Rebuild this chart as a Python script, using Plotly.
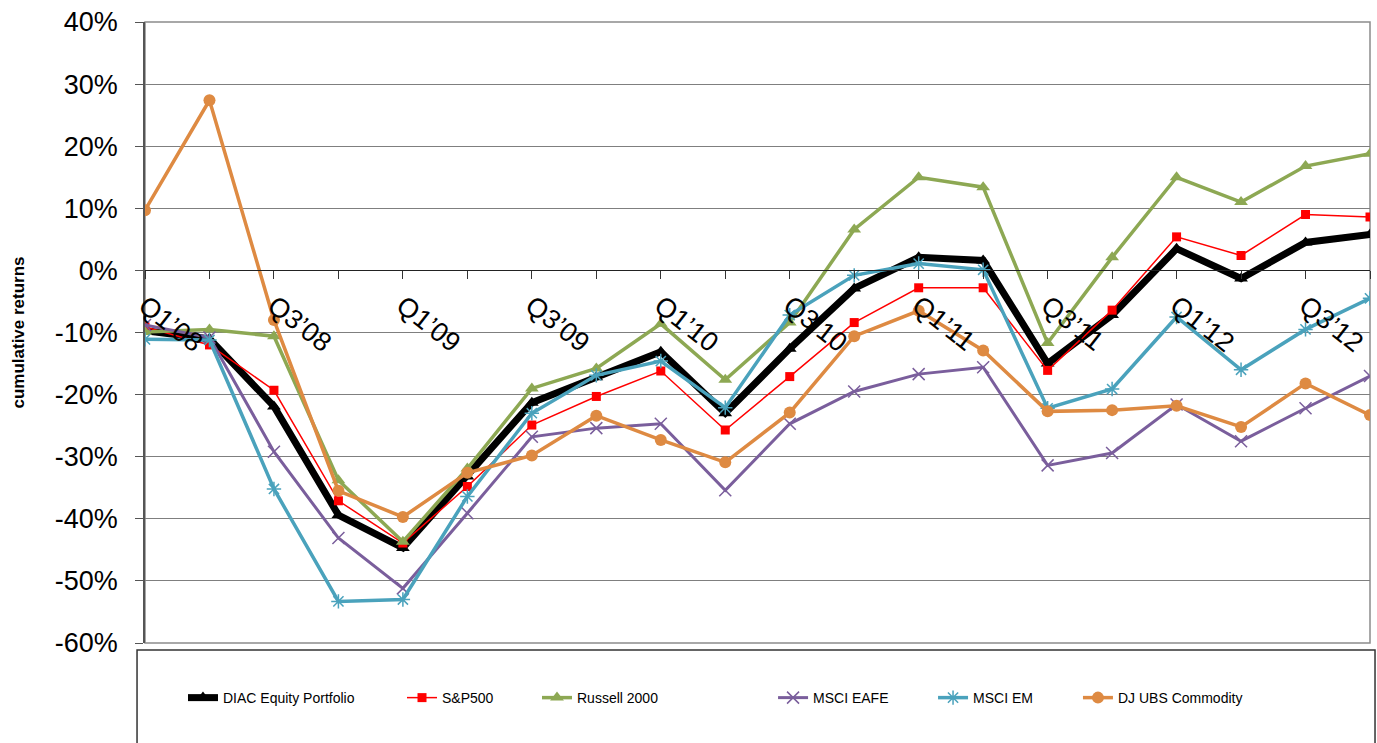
import plotly.graph_objects as go

quarters = ["Q1'08", "Q2'08", "Q3'08", "Q4'08", "Q1'09", "Q2'09", "Q3'09", "Q4'09",
            "Q1'10", "Q2'10", "Q3'10", "Q4'10", "Q1'11", "Q2'11", "Q3'11", "Q4'11",
            "Q1'12", "Q2'12", "Q3'12", "Q4'12"]
x_tick_labels = ["Q1\u201908", "", "Q3\u201908", "", "Q1\u201909", "", "Q3\u201909", "",
                 "Q1\u201910", "", "Q3\u201910", "", "Q1\u201911", "", "Q3\u201911", "",
                 "Q1\u201912", "", "Q3\u201912", ""]

diac = [-9.7, -11.0, -21.9, -39.4, -44.7, -33.2, -21.3, -17.2, -13.1, -23.0,
        -12.6, -2.9, 2.1, 1.6, -15.0, -7.2, 3.5, -1.3, 4.5, 5.8]
sp500 = [-9.1, -12.0, -19.3, -37.1, -43.9, -34.8, -24.9, -20.3, -16.2, -25.7,
         -17.1, -8.4, -2.8, -2.8, -16.1, -6.4, 5.4, 2.4, 9.0, 8.6]
russell = [-9.9, -9.5, -10.6, -33.8, -43.7, -31.9, -19.0, -15.8, -8.6, -17.6,
           -8.4, 6.6, 15.0, 13.4, -11.7, 2.1, 15.0, 11.0, 16.8, 18.8]
eafe = [-8.8, -10.8, -29.2, -43.1, -51.2, -39.1, -26.8, -25.4, -24.7, -35.4,
        -24.7, -19.5, -16.7, -15.6, -31.4, -29.4, -21.6, -27.5, -22.2, -17.0]
em = [-11.1, -11.2, -35.2, -53.3, -53.0, -36.4, -23.0, -16.9, -14.6, -22.1,
      -7.2, -0.8, 1.1, 0.1, -22.2, -19.1, -7.5, -16.0, -9.5, -4.5]
djubs = [9.7, 27.4, -8.0, -35.5, -39.7, -32.6, -29.8, -23.4, -27.3, -30.9,
         -22.9, -10.6, -6.5, -12.9, -22.7, -22.5, -21.8, -25.2, -18.2, -23.3]

y_tick_vals = [40, 30, 20, 10, 0, -10, -20, -30, -40, -50, -60]
y_tick_labels = ["40%", "30%", "20%", "10%", "0%", "-10%", "-20%", "-30%", "-40%", "-50%", "-60%"]

FONT = "Liberation Sans, Arial, sans-serif"

series = [
    dict(name="DIAC Equity Portfolio", y=diac, color="#000000", width=7,
         symbol="triangle-up", size=12, mline=0, legend="legend", lx=0.0310),
    dict(name="S&P500", y=sp500, color="#FF0000", width=1.5,
         symbol="square", size=9, mline=0, legend="legend2", lx=0.2098),
    dict(name="Russell 2000", y=russell, color="#8DA853", width=3.5,
         symbol="triangle-up", size=12, mline=0, legend="legend3", lx=0.3200),
    dict(name="MSCI EAFE", y=eafe, color="#7A5E9C", width=3,
         symbol="x-thin-open", size=12, mline=1.5, legend="legend4", lx=0.5127),
    dict(name="MSCI EM", y=em, color="#4AA2BC", width=3.5,
         symbol="asterisk-open", size=12, mline=1.5, legend="legend5", lx=0.6433),
    dict(name="DJ UBS Commodity", y=djubs, color="#DE8A42", width=3.5,
         symbol="circle", size=12, mline=0, legend="legend6", lx=0.7616),
]

fig = go.Figure()
for s in series:
    fig.add_trace(go.Scatter(
        x=quarters, y=s["y"], name=s["name"], mode="lines+markers",
        line=dict(color=s["color"], width=s["width"]),
        marker=dict(symbol=s["symbol"], size=s["size"], color=s["color"],
                    line=dict(color=s["color"], width=s["mline"])),
        legend=s["legend"], hoverinfo="x+y+name",
    ))

legend_y = -0.0886
layout_legends = {}
for s in series:
    layout_legends[s["legend"]] = dict(
        x=s["lx"], xanchor="left", y=legend_y, yanchor="middle",
        orientation="h", bgcolor="rgba(0,0,0,0)", borderwidth=0,
        font=dict(family=FONT, size=14, color="#000000"),
    )

fig.update_layout(
    width=1377, height=743,
    margin=dict(l=145, r=7, t=22, b=100, autoexpand=False),
    paper_bgcolor="white", plot_bgcolor="white",
    font=dict(family=FONT, color="#000000"),
    showlegend=True,
    **layout_legends,
    xaxis=dict(
        type="category", range=[0, 19], anchor="free", position=0.6,
        tickmode="array", tickvals=quarters, ticktext=x_tick_labels,
        tickangle=38, tickfont=dict(family=FONT, size=27, color="#000000"),
        ticks="outside", ticklen=8, tickcolor="#333333", tickwidth=1,
        showline=True, linecolor="#222222", linewidth=1,
        showgrid=False, zeroline=False, automargin=False,
    ),
    yaxis=dict(
        range=[-60, 40], tickmode="array", tickvals=y_tick_vals, ticktext=y_tick_labels,
        tickfont=dict(family=FONT, size=27, color="#000000"),
        ticks="outside", ticklen=8, tickcolor="#555555", tickwidth=1,
        showline=True, linecolor="#555555", linewidth=1.5,
        showgrid=True, gridcolor="#7F7F7F", gridwidth=1,
        zeroline=False, ticklabelstandoff=12, automargin=False,
        title=dict(text="<b>cumulative returns</b>", font=dict(family=FONT, size=17, color="#000000"),
                   standoff=26),
    ),
    shapes=[
        dict(type="rect", xref="paper", yref="paper", x0=0, x1=1, y0=0, y1=1,
             line=dict(color="#8C8C8C", width=1.5), layer="below"),
        dict(type="rect", xref="paper", yref="paper", x0=-0.0065, x1=1.0041,
             y0=-0.0113, y1=-0.3, line=dict(color="#333333", width=1.5)),
    ],
)

fig.write_html("out.html", config={"displayModeBar": False},
               post_script="document.body.style.margin='0px';document.body.style.overflow='hidden';")
